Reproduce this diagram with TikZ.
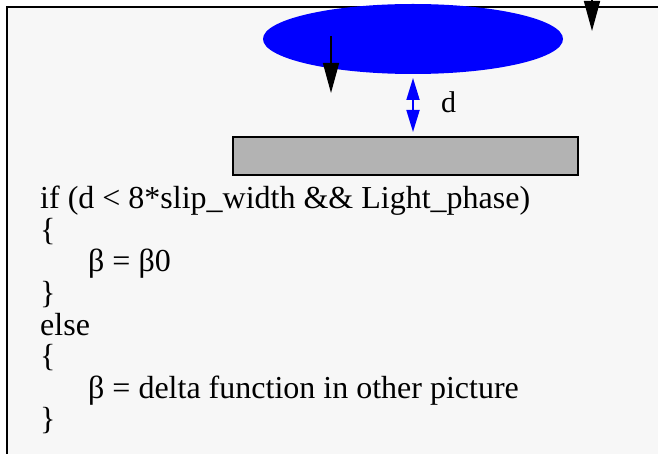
\documentclass[tikz,border=0pt]{standalone}
\usepackage{fontspec}
\setmainfont{Liberation Serif}
\usetikzlibrary{arrows.meta,shapes.geometric}
\definecolor{bgpaper}{HTML}{F7F7F7}
\definecolor{plategray}{HTML}{B3B3B3}
\tikzset{
  codeline/.style={anchor=base west, inner sep=0pt, font=\fontsize{32}{32}\selectfont},
  bigarrow/.style={draw=black, line width=1.6pt, -{Triangle[length=30pt,width=16pt]}},
  gaparrow/.style={draw=blue, line width=1.8pt, {Triangle[length=22pt,width=13pt]}-{Triangle[length=22pt,width=13pt]}},
}
\begin{document}
\begin{tikzpicture}[x=1pt,y=-1pt]
\useasboundingbox (0,0) rectangle (658,454);
\clip (0,0) rectangle (658,454);
% frame
\fill[bgpaper] (7,7) rectangle (660,456);
\draw[line width=2.2pt] (7,460) -- (7,7) -- (662,7);
% shapes
\node (blob) [draw=none, fill=blue, ellipse, minimum width=300pt, minimum height=70pt, inner sep=0pt] at (413,39) {};
\node (plate) [draw=black, line width=2pt, fill=plategray, rectangle, minimum width=345pt, minimum height=38pt, inner sep=0pt] at (405.5,156) {};
% arrows
\coordinate (a1s) at (331,36);
\coordinate (a1e) at (331,93);
\draw[bigarrow] (a1s) -- (a1e);
\coordinate (a2s) at (592,-20);
\coordinate (a2e) at (592,31);
\draw[bigarrow] (a2s) -- (a2e);
\coordinate (dtop) at (413,78);
\coordinate (dbot) at (413,132);
\draw[gaparrow] (dtop) -- (dbot);
\node (dlabel) [anchor=base west, inner sep=0pt, font=\fontsize{30}{30}\selectfont] at (441,113) {d};
% code
\node (l1) [codeline] at (40,209) {if (d < 8*slip\_width \&\& Light\_phase)};
\node (l2) [codeline] at (40,240.5) {\{};
\node (l3) [codeline] at (88,272) {β = β0};
\node (l4) [codeline] at (40,303.5) {\}};
\node (l5) [codeline] at (40,335) {else};
\node (l6) [codeline] at (40,366.5) {\{};
\node (l7) [codeline] at (88,398) {β = delta function in other picture};
\node (l8) [codeline] at (40,429.5) {\}};
\end{tikzpicture}
\end{document}
